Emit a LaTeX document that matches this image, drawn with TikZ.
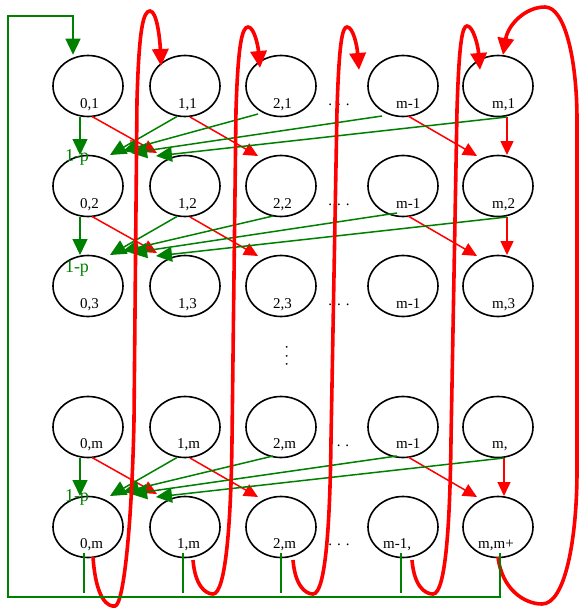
\documentclass[tikz,border=0pt]{standalone}
\usepackage{fontspec}
\setmainfont{Liberation Serif}
\usetikzlibrary{arrows.meta,calc,shapes.geometric}
\definecolor{dg}{rgb}{0,0.5,0}
\begin{document}
\begin{tikzpicture}[x=1pt,y=-1pt,
 st/.style={draw,ellipse,line width=1.6pt,minimum width=70pt,minimum height=61pt,inner sep=0pt},
 lbl/.style={anchor=base west,font=\fontsize{15}{15}\selectfont,inner sep=0pt},
 dotl/.style={anchor=base,font=\fontsize{15}{15}\selectfont,inner sep=0pt},
 gar/.style={draw=dg,line width=1.5pt,-{Triangle[length=16pt,width=15pt]}},
 rar/.style={draw=red,line width=1.5pt,-{Triangle[length=14pt,width=13pt]}},
 big/.style={draw=red,line width=3.6pt,-{Triangle[length=17pt,width=16pt]}},
 fbk/.style={draw=dg,line width=1.5pt},
 plbl/.style={text=dg,font=\fontsize{18}{18}\selectfont,inner sep=0pt}]
\useasboundingbox (0,0) rectangle (579,608);
% nodes
\foreach \c/\x in {0/88,1/185,2/281,3/403,4/498}{
  \foreach \r/\y in {1/86,2/186,3/286,4/427,5/527}{
    \node[st] (n\c\r) at (\x,\y) {};
  }
}
% labels
\foreach \nm/\x/\y/\t in {
  l01/80/108/{0,1}, l11/178/108/{1,1}, l21/273/108/{2,1}, l31/396/108/{m-1}, l41/492/108/{m,1},
  l02/80/208/{0,2}, l12/178/208/{1,2}, l22/273/208/{2,2}, l32/396/208/{m-1}, l42/492/208/{m,2},
  l03/80/308/{0,3}, l13/178/308/{1,3}, l23/273/308/{2,3}, l33/396/308/{m-1}, l43/492/308/{m,3},
  l04/80/448/{0,m}, l14/177/448/{1,m}, l24/273/448/{2,m}, l34/396/448/{m-1}, l44/492/448/{m,},
  l05/80/548/{0,m}, l15/177/548/{1,m}, l25/273/548/{2,m}, l35/383/548/{m-1,}, l45/478/548/{m,m+}}{
  \node[lbl] (\nm) at (\x,\y) {\t};
}
% dots
\node[dotl] (d1) at (339,105) {. . .};
\node[dotl] (d2) at (339,205) {. . .};
\node[dotl] (d3) at (339,305) {. . .};
\node[dotl] (d4) at (343,446) {. .};
\node[dotl] (d5) at (339,545) {. . .};
\node[font=\fontsize{15}{15}\selectfont,inner sep=0pt,rotate=-90,anchor=base] (vd) at (286,356) {. . .};
% 1-p labels
\node[plbl] (p1) at (77,157) {1-p};
\node[plbl] (p2) at (77,268) {1-p};
\node[plbl] (p3) at (77,497) {1-p};
\node[text=red,font=\fontsize{15}{15}\selectfont,inner sep=0pt] (rp) at (133,146) {p};
% thin arrows between rows
\foreach \a/\b/\gx/\gy/\hx/\hy/\mx in {1/2/-23/28/-21/30/9, 2/3/-8/30/-6/27/9, 4/5/-8/29/-6/29/6}{
  \draw[gar] ($(n0\a)+(-8,31)$) -- ($(n0\b)+(-8,-31)$);
  \draw[rar] ($(n0\a)+(4,30.5)$) -- ($(n1\b)+(-28,-33)$);
  \draw[rar] ($(n1\a)+(5,31)$) -- ($(n2\b)+(-23,-30)$);
  \draw[rar] ($(n3\a)+(5,30)$) -- ($(n4\b)+(-21,-30)$);
  \draw[rar] ($(n4\a)+(\mx,31)$) -- ($(n4\b)+(\mx,-31)$);
  \draw[gar] ($(n1\a)+(-8,30.5)$) -- ($(n0\b)+(22,-31)$);
  \draw[gar] ($(n2\a)+(\gx,\gy)$) -- ($(n0\b)+(35,-35)$);
  \draw[gar] ($(n3\a)+(\hx,\hy)$) -- ($(n0\b)+(43,-33)$);
  \draw[gar] ($(n4\a)+(\mx,31)$) -- ($(n1\b)+(-29,-30)$);
}
% thick red return curves
\coordinate (rs1) at ($(n05)+(5,30)$);  \coordinate (re1) at ($(n11)+(-24,-20)$);
\coordinate (rs2) at ($(n15)+(8,33)$);  \coordinate (re2) at ($(n21)+(-21,-18)$);
\coordinate (rs3) at ($(n25)+(12,33)$); \coordinate (re3) at ($(n31)+(-44,-16)$);
\coordinate (rs4) at ($(n35)+(9,33)$);  \coordinate (re4) at ($(n41)+(-18,-16)$);
\coordinate (rs5) at ($(n45)+(0,30)$);  \coordinate (re5) at ($(n41)+(5,-31)$);
\draw[big] (rs1) .. controls (96,600) and (108,607) .. (115,606) .. controls (124,605) and (132,520) .. (134,420) -- (137,100) .. controls (139,30) and (143,11) .. (150,11) .. controls (157,11) and (160,40) .. (re1);
\draw[big] (rs2) .. controls (195,585) and (205,594) .. (213,594) .. controls (226,594) and (231,520) .. (232,440) -- (236,110) .. controls (238,45) and (242,27) .. (248,27) .. controls (254,27) and (258,45) .. (re2);
\draw[big] (rs3) .. controls (295,585) and (305,594) .. (313,594) .. controls (326,594) and (330,520) .. (331,440) -- (337,110) .. controls (339,45) and (342,27) .. (347,27) .. controls (353,27) and (357,45) .. (re3);
\draw[big] (rs4) .. controls (414,585) and (424,594) .. (433,594) .. controls (446,594) and (450,520) .. (451,440) -- (457,110) .. controls (459,45) and (462,26) .. (467,26) .. controls (473,26) and (478,45) .. (re4);
\draw[big] (rs5) .. controls (502,590) and (525,604) .. (542,604) .. controls (565,604) and (577,540) .. (577,470) -- (577,120) .. controls (577,60) and (565,7) .. (545,7) .. controls (525,7) and (508,25) .. (re5);
% green feedback
\coordinate (fbl) at (8,597);
\coordinate (fbt) at (8,16);
\coordinate (fbs) at (0,593);
\coordinate (s0) at ($(n05)+(-4,26)$);
\coordinate (s1) at ($(n15)+(-2,26)$);
\coordinate (s2) at ($(n25)+(0,26)$);
\coordinate (s3) at ($(n35)+(-2,26)$);
\coordinate (s4) at ($(n45)+(2,26)$);
\coordinate (tg) at ($(n01.north)+(-15,0)$);
\foreach \s in {s0,s1,s2,s3}{ \draw[fbk] (\s) -- (\s |- fbs); }
\draw[fbk,-{Triangle[length=16pt,width=15pt]}] (s4) |- (fbl) -- (fbt) -| (tg);
\end{tikzpicture}
\end{document}
